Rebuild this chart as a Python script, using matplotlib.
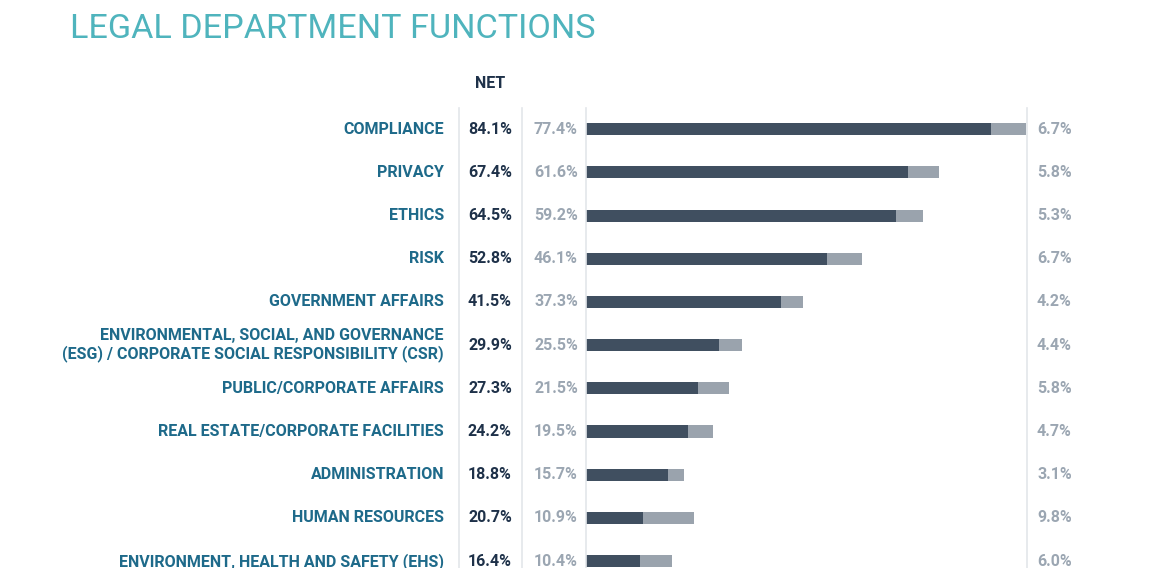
import matplotlib.pyplot as plt
from matplotlib.lines import Line2D
import matplotlib.transforms as mtransforms

# datos
labels = ["COMPLIANCE", "PRIVACY", "ETHICS", "RISK", "GOVERNMENT AFFAIRS",
          "ENVIRONMENTAL, SOCIAL, AND GOVERNANCE\n(ESG) / CORPORATE SOCIAL RESPONSIBILITY (CSR)",
          "PUBLIC/CORPORATE AFFAIRS", "REAL ESTATE/CORPORATE FACILITIES",
          "ADMINISTRATION", "HUMAN RESOURCES", "ENVIRONMENT, HEALTH AND SAFETY (EHS)"]
net = [84.1, 67.4, 64.5, 52.8, 41.5, 29.9, 27.3, 24.2, 18.8, 20.7, 16.4]
primary = [77.4, 61.6, 59.2, 46.1, 37.3, 25.5, 21.5, 19.5, 15.7, 10.9, 10.4]
secondary = [6.7, 5.8, 5.3, 6.7, 4.2, 4.4, 5.8, 4.7, 3.1, 9.8, 6.0]

W, H = 1153, 568
plt.rcParams['font.family'] = ['Roboto', 'DejaVu Sans']

TITLE_C = "#4fb4bd"
LABEL_C = "#1e6a8a"
NET_C = "#1e3149"
GRAY_T = "#9ba6b2"
DARK_BAR = "#404f60"
LIGHT_BAR = "#9aa3ad"
LINE_C = "#e3e6ea"
FS = 11.5

fig = plt.figure(figsize=(W / 100, H / 100), dpi=100)

# ejes de barras en coordenadas de pixel
x0, x1 = 586, 1027
top = 108
ax = fig.add_axes([x0 / W, 0, (x1 - x0) / W, (H - top) / H])
rows = list(range(len(labels)))
ax.barh(rows, primary, height=0.28, color=DARK_BAR)
ax.barh(rows, secondary, left=primary, height=0.28, color=LIGHT_BAR)
ax.set_xlim(0, 84.3)
ax.set_ylim(10.16, -0.49)
ax.axis("off")

# líneas verticales
for xp in [459, 522, 586, 1027]:
    fig.add_artist(Line2D([xp / W, xp / W], [0, (H - top) / H],
                          color=LINE_C, lw=1.2))

trans = mtransforms.blended_transform_factory(fig.transFigure, ax.transData)
for i in rows:
    fig.text(444 / W, i, labels[i], transform=trans, ha="right", va="center",
             fontsize=FS, fontweight="bold", color=LABEL_C, linespacing=1.15)
    fig.text(490 / W, i, f"{net[i]:.1f}%", transform=trans, ha="center", va="center",
             fontsize=FS, fontweight="bold", color=NET_C)
    fig.text(578 / W, i, f"{primary[i]:.1f}%", transform=trans, ha="right", va="center",
             fontsize=FS, fontweight="bold", color=GRAY_T)
    fig.text(1037 / W, i, f"{secondary[i]:.1f}%", transform=trans, ha="left", va="center",
             fontsize=FS, fontweight="bold", color=GRAY_T)

fig.text(490 / W, 1 - 84 / H, "NET", ha="center", va="center",
         fontsize=FS, fontweight="bold", color=NET_C)

fig.text(70 / W, 1 - 29 / H, "LEGAL DEPARTMENT FUNCTIONS", ha="left", va="center",
         fontsize=24.6, fontweight="normal", color=TITLE_C)

fig.savefig("out.png", dpi=100)
